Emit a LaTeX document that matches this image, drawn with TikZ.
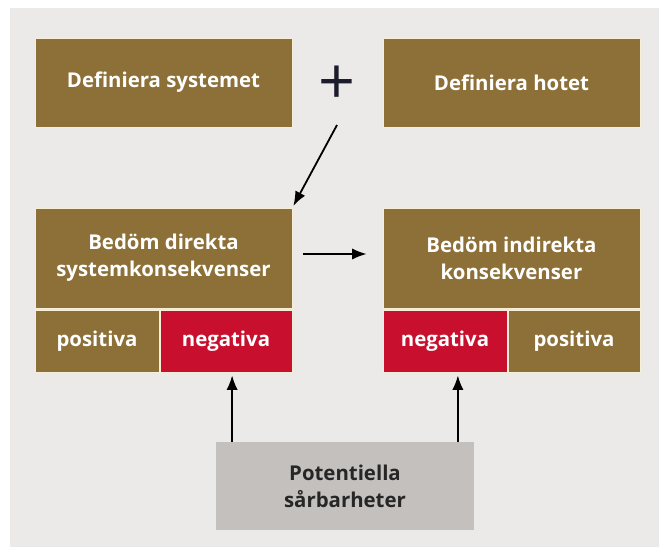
\documentclass[tikz,border=0pt]{standalone}
\usepackage{fontspec}
\setmainfont{Open Sans}
\usetikzlibrary{arrows.meta,positioning}
\definecolor{panelgray}{RGB}{235,234,232}
\definecolor{boxbrown}{RGB}{140,112,56}
\definecolor{boxred}{RGB}{200,16,46}
\definecolor{boxgray}{RGB}{196,192,189}
\definecolor{seam}{RGB}{246,238,214}
\definecolor{plusink}{RGB}{28,28,45}

\begin{document}
\begin{tikzpicture}[x=0.025cm,y=-0.025cm]
                    \tikzstyle{stage} = [
	shape=rectangle,
	fill=boxbrown, %brown fill of the boxes
	draw=seam, %thin light rim
	line width=0.5pt,
	text=white,
	font=\bfseries\fontsize{14.5}{19}\selectfont,
	align=center,
	minimum width=6.425cm,
	minimum height=2.225cm,
	inner sep=0pt
];
\tikzstyle{cell} = [
	stage,
	minimum width=3.1cm,
	minimum height=1.55cm
];
\tikzstyle{flow} = [
	-{Latex[length=3.6mm,width=2.8mm]},
	line width=0.45mm,
	color=black
];

%background panel
\useasboundingbox (0,0) rectangle (659,547);
\fill[panelgray] (10,8) rectangle (659,547);

\begin{scope}
	\node[stage](sys) at (163.5,82.5) {Definiera systemet};
	\node[stage, minimum height=2.5cm](dir) at (163.5,258) {Bedöm direkta\\systemkonsekvenser};
	\node[cell](dirpos) at (97,341) {positiva};
	\node[cell, fill=boxred, minimum width=3.3cm](dirneg) at (226,341) {negativa};
\end{scope}

\begin{scope}
	\node[stage](hot) at (511.5,82.5) {Definiera hotet};
	\node[stage, minimum height=2.5cm](ind) at (511.5,258) {Bedöm indirekta\\konsekvenser};
	\node[cell, fill=boxred](indneg) at (445,341) {negativa};
	\node[cell, minimum width=3.3cm](indpos) at (574,341) {positiva};
\end{scope}

\node[font=\fontsize{46}{46}\selectfont, text=plusink, inner sep=0pt](plus) at (337,85) {+};
\coordinate[below=1cm of plus.center] (plusfoot);
\node[stage, fill=boxgray, text=black!85, draw=none, minimum height=2.2cm](pot) at (345,486) {Potentiella\\sårbarheter};

%feet of the two upward arrows
\coordinate (lfoot) at ([xshift=0.4cm]pot.north west);
\coordinate (rfoot) at ([xshift=-0.4cm]pot.north east);

%flow arrows
\draw[flow, shorten >=0.05cm] (plusfoot) -- (dir.north east);
\draw[flow, shorten <=0.275cm, shorten >=0.4cm] ([yshift=0.1cm]dir.east) -- ([yshift=0.1cm]ind.west);
\draw[flow, shorten >=0.075cm] (lfoot) -- (lfoot |- dirneg.south);
\draw[flow, shorten >=0.075cm] (rfoot) -- (rfoot |- indneg.south);

                \end{tikzpicture}
\end{document}
